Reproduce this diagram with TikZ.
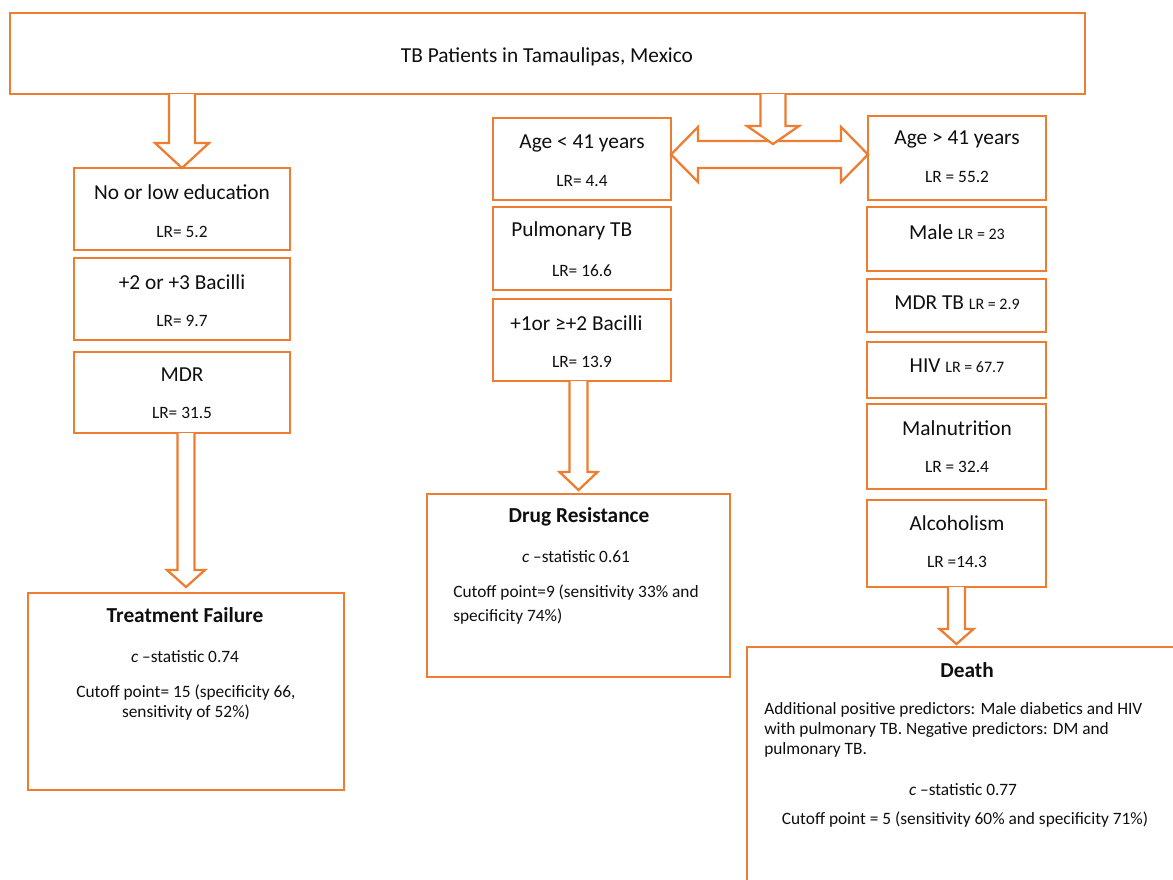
\documentclass[tikz,border=0pt]{standalone}
\usepackage{fontspec}
\setmainfont{Carlito}
\usetikzlibrary{fit,calc}

\definecolor{tborange}{RGB}{237,125,49}
\definecolor{tbtext}{RGB}{15,15,15}

\newcommand{\pxu}{0.75pt}
% hollow arrow pointing down: start, tip, shaft half width, head half width, head length
\newcommand{\hollowdown}[5]{%
  \draw[fatarrow] let \p1=#1, \p2=#2 in
    (\x2-#3*\pxu,\y1) -- (\x2-#3*\pxu,\y2+#5*\pxu) -- (\x2-#4*\pxu,\y2+#5*\pxu)
    -- (\x2,\y2) -- (\x2+#4*\pxu,\y2+#5*\pxu) -- (\x2+#3*\pxu,\y2+#5*\pxu)
    -- (\x2+#3*\pxu,\y1);}

\tikzset{
  box/.style={draw=tborange, line width=2.2pt, inner sep=0pt, outer sep=0pt},
  fatarrow/.style={draw=tborange, fill=white, line width=1.7pt, line join=miter},
  label/.style={inner sep=0pt, text=tbtext, font=\fontsize{16pt}{19pt}\selectfont},
  lrtext/.style={inner sep=0pt, text=tbtext, font=\fontsize{13pt}{15pt}\selectfont},
  small/.style={inner sep=0pt, text=tbtext, font=\fontsize{13pt}{15pt}\selectfont},
  title/.style={inner sep=0pt, text=tbtext, font=\fontsize{16pt}{19pt}\selectfont\bfseries},
}

\newcommand{\lrsmall}[1]{{\fontsize{12pt}{14pt}\selectfont #1}}

\begin{document}
\begin{tikzpicture}[x=0.75pt, y=-0.75pt]
    \clip (0,0) rectangle (1173,879);
    \fill[white] (0,0) rectangle (1173,879);

    % boxes
    \node[box, fit={(10,13) (1085,94)}] (top) {};
    \node[box, fit={(74,168) (290,250)}] (edu) {};
    \node[box, fit={(74,258) (290,340)}] (bac) {};
    \node[box, fit={(74,352) (290,433)}] (mdr) {};
    \node[box, fit={(28,593) (344,790)}] (tf) {};
    \node[box, fit={(493,118) (671,200)}] (agelo) {};
    \node[box, fit={(493,207) (671,290)}] (pulm) {};
    \node[box, fit={(493,299) (671,381)}] (bacmid) {};
    \node[box, fit={(427,494) (730,677)}] (dr) {};
    \node[box, fit={(868,116) (1046,200)}] (agehi) {};
    \node[box, fit={(867,207) (1046,271)}] (male) {};
    \node[box, fit={(867,279) (1046,332)}] (mdrtb) {};
    \node[box, fit={(867,342) (1046,398)}] (hiv) {};
    \node[box, fit={(867,404) (1046,489)}] (maln) {};
    \node[box, fit={(867,500) (1046,587)}] (alc) {};
    \node[box, fit={(747,647) (1210,910)}] (death) {};

    % arrows
    \coordinate (split) at (773,144);
    \coordinate (dblmid) at (770,154.5);
    \hollowdown{(top.south -| edu.north)}{(edu.north)}{13}{27}{25}
    \hollowdown{(mdr.south)}{($(tf.north)+(0,-6)$)}{8.5}{19}{17}
    \hollowdown{(bacmid.south)}{($(dr.north)+(0,-4)$)}{9}{19}{18}
    \hollowdown{(alc.south)}{($(death.north -| alc.south)+(0,-3)$)}{8.5}{17}{15}
    \draw[fatarrow] let \p1=(agelo.east), \p2=(agehi.west), \p3=(dblmid) in
      (\x1,\y3) -- (\x1+27*\pxu,\y3+27.5*\pxu) -- (\x1+27*\pxu,\y3+13.5*\pxu)
      -- (\x2-27*\pxu,\y3+13.5*\pxu) -- (\x2-27*\pxu,\y3+27.5*\pxu) -- (\x2,\y3)
      -- (\x2-27*\pxu,\y3-27.5*\pxu) -- (\x2-27*\pxu,\y3-13.5*\pxu)
      -- (\x1+27*\pxu,\y3-13.5*\pxu) -- (\x1+27*\pxu,\y3-27.5*\pxu) -- cycle;
    \hollowdown{(top.south -| split)}{(split)}{12.5}{26}{18}

    % texts
    \node[label] (toptxt) at (547,57) {TB Patients in Tamaulipas, Mexico};

    \node[label] (edutxt) at (182,192) {No or low education};
    \node[lrtext] (edulr) at (182,232) {LR= 5.2};
    \node[label] (bactxt) at (182,282) {+2 or +3 Bacilli};
    \node[lrtext] (baclr) at (182,321) {LR= 9.7};
    \node[label] (mdrtxt) at (182,375) {MDR};
    \node[lrtext] (mdrlr) at (182,413) {LR= 31.5};

    \node[title] (tftitle) at (185,615) {Treatment Failure};
    \node[small] (tfstat) at (185,657) {\textit{c} –statistic 0.74};
    \node[small] (tfcut1) at (186,693) {Cutoff point= 15 (specificity 66,};
    \node[small] (tfcut2) at (186,713) {sensitivity of 52\%)};

    \node[label] (agelotxt) at (582,143) {Age < 41 years};
    \node[lrtext] (agelolr) at (582,181) {LR= 4.4};
    \node[label, anchor=west] (pulmtxt) at (511,231) {Pulmonary TB};
    \node[lrtext] (pulmlr) at (582,271) {LR= 16.6};
    \node[label, anchor=west] (bacmidtxt) at (510,323) {+1or ≥+2 Bacilli};
    \node[lrtext] (bacmidlr) at (582,362) {LR= 13.9};

    \node[title] (drtitle) at (579,517) {Drug Resistance};
    \node[small] (drstat) at (576,557) {\textit{c} –statistic 0.61};
    \node[small, anchor=west] (drcut1) at (453,593) {Cutoff point=9 (sensitivity 33\% and};
    \node[small, anchor=west] (drcut2) at (453,617) {specificity 74\%)};

    \node[label] (agehitxt) at (957,139) {Age > 41 years};
    \node[lrtext] (agehilr) at (957,177) {LR = 55.2};
    \node[label] (maletxt) at (957,232) {Male \lrsmall{LR = 23}};
    \node[label] (mdrtbtxt) at (957,303) {MDR TB \lrsmall{LR = 2.9}};
    \node[label] (hivtxt) at (957,366) {HIV \lrsmall{LR = 67.7}};
    \node[label] (malntxt) at (957,428) {Malnutrition};
    \node[lrtext] (malnlr) at (957,467) {LR = 32.4};
    \node[label] (alctxt) at (957,523) {Alcoholism};
    \node[lrtext] (alclr) at (957,562) {LR =14.3};

    \node[title] (deathtitle) at (967,670) {Death};
    \node[small, anchor=west] (death1) at (764,710) {Additional positive predictors: Male diabetics and HIV};
    \node[small, anchor=west] (death2) at (764,730) {with pulmonary TB. Negative predictors: DM and};
    \node[small, anchor=west] (death3) at (764,750) {pulmonary TB.};
    \node[small] (deathstat) at (963,790) {\textit{c} –statistic 0.77};
    \node[small] (deathcut) at (965,820) {Cutoff point = 5 (sensitivity 60\% and specificity 71\%)};
\end{tikzpicture}
\end{document}
